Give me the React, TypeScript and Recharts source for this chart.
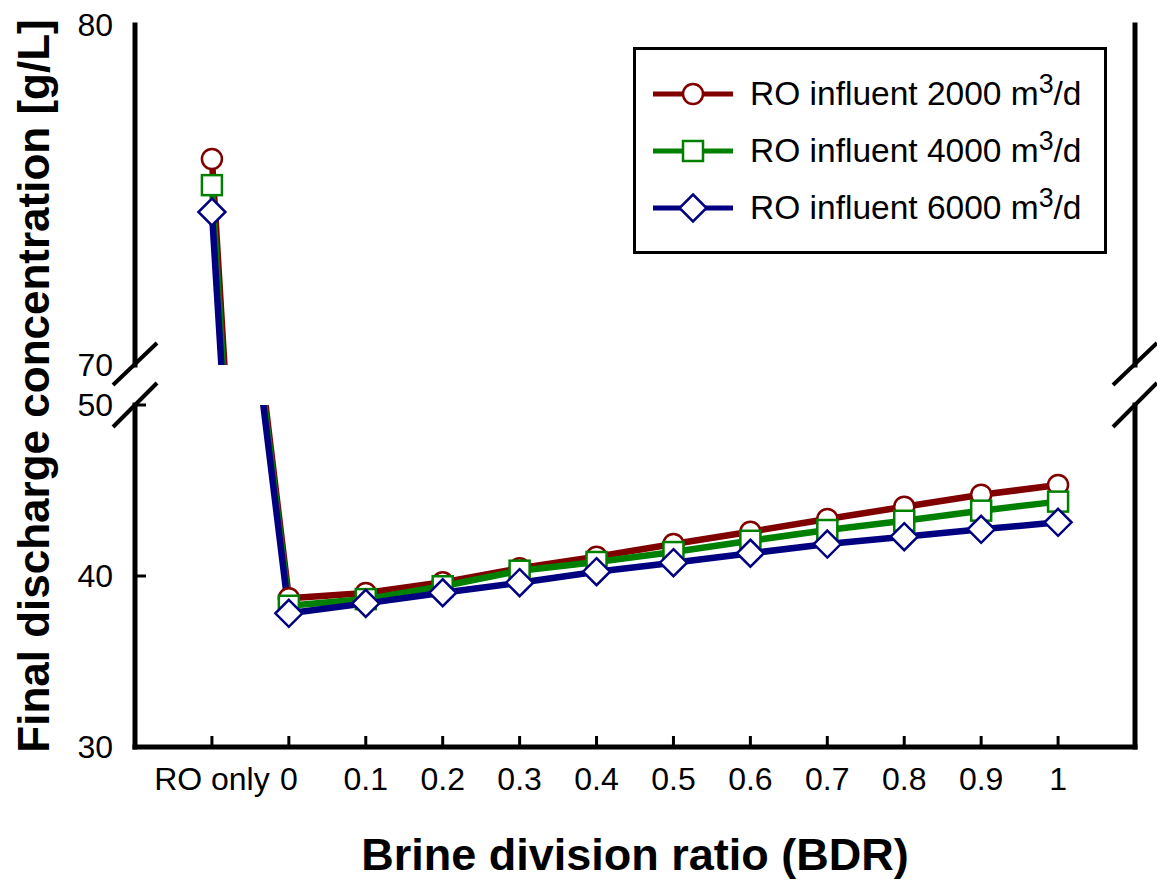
import { LineChart, Line, XAxis, YAxis, Legend } from 'recharts';

const ratioLabels = ['RO only', '0', '0.1', '0.2', '0.3', '0.4', '0.5', '0.6', '0.7', '0.8', '0.9', '1'];
const influent2000 = [76.06, 38.7, 39.01, 39.63, 40.45, 41.13, 41.87, 42.59, 43.33, 44.05, 44.75, 45.32];
const influent4000 = [75.29, 38.26, 38.65, 39.4, 40.31, 40.82, 41.4, 42.06, 42.69, 43.23, 43.82, 44.35];
const influent6000 = [74.5, 37.82, 38.4, 39.02, 39.61, 40.25, 40.78, 41.33, 41.87, 42.3, 42.73, 43.14];
const upperTicks = [70, 80];
const lowerTicks = [30, 40, 50];

const data = ratioLabels.map((label, i) => ({
    label,
    pos: i - 1,
    q2000: influent2000[i],
    q4000: influent4000[i],
    q6000: influent6000[i],
}));
const xTicks = data.map((d) => d.pos);

const series = [
    { key: 'q2000', flow: '2000', color: '#800000', shape: 'circle' },
    { key: 'q4000', flow: '4000', color: '#008000', shape: 'square' },
    { key: 'q6000', flow: '6000', color: '#000080', shape: 'diamond' },
];

const W = 1157;
const H = 884;
const FONT = '"Liberation Sans", Arial, sans-serif';

const axisStyle = { stroke: '#000', strokeWidth: 5, strokeLinecap: 'square' as const };
const tickLineStyle = { stroke: '#000', strokeWidth: 3 };
const tickStyle = { fontSize: 32, fill: '#000', fontFamily: FONT };

const Marker = ({ cx, cy, shape, color }: { cx: number; cy: number; shape: string; color: string }) => {
    if (cx == null || cy == null) return null;
    if (shape === 'circle') {
        return <circle cx={cx} cy={cy} r={10} fill="#fff" stroke={color} strokeWidth={2.5} />;
    }
    if (shape === 'square') {
        return <rect x={cx - 10} y={cy - 10} width={20} height={20} fill="#fff" stroke={color} strokeWidth={2.5} />;
    }
    return (
        <polygon
            points={`${cx},${cy - 13.5} ${cx + 13.5},${cy} ${cx},${cy + 13.5} ${cx - 13.5},${cy}`}
            fill="#fff"
            stroke={color}
            strokeWidth={2.5}
        />
    );
};

const renderLines = () =>
    series.map((s) => (
        <Line
            key={s.key}
            type="linear"
            dataKey={s.key}
            stroke={s.color}
            strokeWidth={6.5}
            isAnimationActive={false}
            dot={(p: any) => (
                <g key={`${s.key}-${p.index}`}>
                    <Marker cx={p.cx} cy={p.cy} shape={s.shape} color={s.color} />
                </g>
            )}
            activeDot={false}
        />
    ));

const renderLegend = () => (
    <div
        style={{
            boxSizing: 'border-box',
            width: 474,
            height: 207,
            border: '3px solid #000',
            background: '#fff',
            padding: '15px 0 0 17px',
            fontFamily: FONT,
            fontSize: 33.5,
            color: '#000',
        }}
    >
        {series.map((s) => (
            <div key={s.key} style={{ display: 'flex', alignItems: 'center', height: 57 }}>
                <svg width={80} height={30} style={{ flex: 'none' }}>
                    <line x1={0} y1={15} x2={80} y2={15} stroke={s.color} strokeWidth={5} />
                    <Marker cx={40} cy={15} shape={s.shape} color={s.color} />
                </svg>
                <span style={{ marginLeft: 17, whiteSpace: 'nowrap' }}>
                    RO influent {s.flow} m<sup style={{ fontSize: '0.8em', lineHeight: 0 }}>3</sup>/d
                </span>
            </div>
        ))}
    </div>
);

const App = () => {
    return (
        <div style={{ position: 'absolute', left: 0, top: 0, width: W, height: H, background: '#fff' }}>
            {/* upper panel: 70 - 80 */}
            <div style={{ position: 'absolute', left: 0, top: 0 }}>
                <LineChart width={W} height={H} data={data} margin={{ top: 25, right: 21, bottom: H - 365, left: 0 }}>
                    <XAxis
                        type="number"
                        dataKey="pos"
                        domain={[-2, 11]}
                        ticks={xTicks}
                        orientation="top"
                        height={0}
                        tick={false}
                        tickLine={false}
                        axisLine={axisStyle}
                    />
                    <YAxis
                        width={135}
                        domain={[70, 80]}
                        ticks={upperTicks}
                        allowDataOverflow
                        tickLine={false}
                        tickSize={0}
                        tickMargin={22}
                        tick={tickStyle}
                        axisLine={axisStyle}
                    />
                    <YAxis
                        yAxisId="r"
                        orientation="right"
                        width={1}
                        domain={[0, 1]}
                        tick={false}
                        tickLine={false}
                        axisLine={axisStyle}
                    />
                    {renderLines()}
                    <Legend
                        layout="horizontal"
                        verticalAlign="middle"
                        align="center"
                        content={renderLegend}
                        wrapperStyle={{ left: 633, top: 47, width: 474, height: 207 }}
                    />
                </LineChart>
            </div>
            {/* lower panel: 30 - 50 */}
            <div style={{ position: 'absolute', left: 0, top: 0 }}>
                <LineChart width={W} height={H} data={data} margin={{ top: 405, right: 21, bottom: 0, left: 0 }}>
                    <XAxis
                        type="number"
                        dataKey="pos"
                        domain={[-2, 11]}
                        ticks={xTicks}
                        interval={0}
                        tickFormatter={(v: number) => ratioLabels[v + 1]}
                        height={137}
                        tickSize={-11}
                        tickMargin={31}
                        tickLine={tickLineStyle}
                        axisLine={axisStyle}
                        tick={tickStyle}
                        label={{
                            value: 'Brine division ratio (BDR)',
                            position: 'insideBottom',
                            offset: 14,
                            style: { fontSize: 45, fontWeight: 'bold', fill: '#000', fontFamily: FONT },
                        }}
                    />
                    <YAxis
                        width={135}
                        domain={[30, 50]}
                        ticks={lowerTicks}
                        allowDataOverflow
                        tickSize={-11}
                        tickMargin={33}
                        tickLine={tickLineStyle}
                        tick={tickStyle}
                        axisLine={axisStyle}
                    />
                    <YAxis
                        yAxisId="r"
                        orientation="right"
                        width={1}
                        domain={[0, 1]}
                        tick={false}
                        tickLine={false}
                        axisLine={axisStyle}
                    />
                    {renderLines()}
                </LineChart>
            </div>
            {/* axis break marks and y title */}
            <svg width={W} height={H} style={{ position: 'absolute', left: 0, top: 0, pointerEvents: 'none' }}>
                <g stroke="#000" strokeWidth={4}>
                    <line x1={113} y1={385} x2={157} y2={343} />
                    <line x1={113} y1={427} x2={157} y2={383} />
                    <line x1={1113} y1={385} x2={1157} y2={343} />
                    <line x1={1113} y1={427} x2={1157} y2={383} />
                </g>
                <text
                    x={49}
                    y={386}
                    transform="rotate(-90 49 386)"
                    textAnchor="middle"
                    fontSize={44}
                    fontWeight="bold"
                    fontFamily={FONT}
                    fill="#000"
                >
                    Final discharge concentration [g/L]
                </text>
            </svg>
        </div>
    );
};

export default App;
